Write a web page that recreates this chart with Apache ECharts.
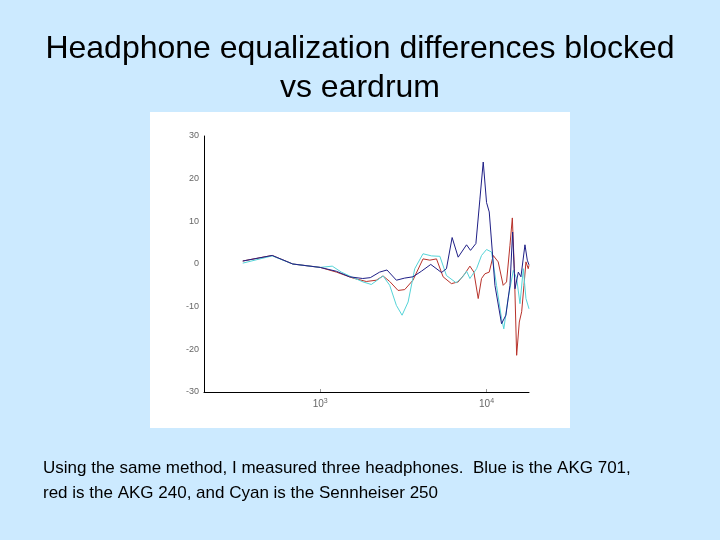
<!DOCTYPE html>
<html><head><meta charset="utf-8">
<script src="https://cdn.jsdelivr.net/npm/echarts@6/dist/echarts.min.js"></script>
<style>html,body{margin:0;padding:0;background:#cceaff;}#c{width:720px;height:540px;}</style>
</head><body><div id="c"></div>
<script>
const titleLines = ['Headphone equalization differences blocked', 'vs eardrum'];
const captionLines = ['Using the same method, I measured three headphones.  Blue is the AKG 701,', 'red is the AKG 240, and Cyan is the Sennheiser 250'];
const yTicks = [-30, -20, -10, 0, 10, 20, 30];

const blueFreq = [342, 514, 684, 1000, 1250, 1500, 1800, 2000, 2277, 2520, 2870, 3220, 3610, 4055, 4620, 5360, 5740, 6210, 6750, 7580, 8010, 8630, 9120, 9550, 10000, 10380, 11230, 12310, 13070, 13830, 14350, 14830, 15530, 16100, 17020, 17580, 18000];
const blueDb   = [0.7, 2.0, 0, -0.8, -1.7, -3.0, -3.4, -3.2, -1.9, -1.4, -3.8, -3.3, -3.0, -1.7, -0.1, -2.0, -1.1, 6.2, 1.6, 4.5, 3.2, 4.8, 15.2, 23.9, 14.4, 12.2, -5.0, -14.0, -12.0, -5.0, 7.5, -5.8, -1.9, -3.0, 4.5, 0.9, -0.2];

const redFreq = [342, 514, 684, 1000, 1250, 1574, 1892, 2172, 2386, 2617, 2937, 3220, 3610, 4150, 4560, 5000, 5480, 6150, 6750, 7400, 7940, 8390, 8910, 9330, 9770, 10380, 10970, 11750, 12590, 13190, 13830, 14290, 14690, 15170, 15740, 16260, 16790, 17260, 17810, 18000];
const redDb   = [0.7, 2.0, 0, -0.8, -1.9, -3.3, -4.1, -3.8, -2.8, -4.1, -6.2, -6.0, -3.8, 1.2, 0.9, 1.2, -3.0, -4.6, -4.2, -2.3, -0.5, -1.9, -8.1, -3.4, -2.3, -1.9, 2.0, 0.5, -5.0, -4.2, 4.4, 10.8, -1.1, -21.4, -13.6, -11.2, -5.0, 0.5, -1.1, -0.3];

const cyanFreq = [342, 514, 684, 1000, 1181, 1339, 1538, 1808, 2028, 2386, 2617, 2870, 3105, 3376, 3700, 4150, 4670, 5240, 5740, 6560, 7200, 7590, 7940, 8710, 9330, 10000, 10720, 11480, 12310, 12700, 13480, 14480, 15170, 15890, 16630, 17260, 18000];
const cyanDb   = [0.2, 1.9, 0, -0.8, -0.5, -1.9, -3.0, -4.2, -4.8, -2.8, -5.0, -9.7, -12.0, -8.9, -1.1, 2.4, 1.9, 1.8, -2.7, -4.4, -3.0, -1.7, -3.4, -1.1, 2.0, 3.4, 2.8, -5.0, -12.8, -15.2, -8.1, -1.5, -3.4, -9.3, -1.1, -8.1, -10.5];

const pairs = (xs, ys) => xs.map((x, i) => [x, ys[i]]);
const chart = echarts.init(document.getElementById('c'), null, {renderer: 'canvas'});

chart.setOption({
  backgroundColor: '#cceaff',
  animation: false,
  graphic: [
    {type: 'rect', z: -10, shape: {x: 150, y: 112, width: 420, height: 316}, style: {fill: '#ffffff'}},
    {type: 'text', left: 'center', top: 30, style: {text: titleLines.join('\n'), font: '32px "Liberation Sans", Arial, sans-serif', fill: '#000', textAlign: 'center', lineHeight: 39}},
    {type: 'text', left: 43, top: 456, style: {text: captionLines.join('\n'), font: '17px "Liberation Sans", Arial, sans-serif', fill: '#000', lineHeight: 25}}
  ],
  grid: {left: 204, top: 136, width: 325, height: 256, containLabel: false},
  xAxis: {
    type: 'log', logBase: 10, min: 200, max: 18000,
    axisLine: {show: true, onZero: false, lineStyle: {color: '#000', width: 1}},
    axisTick: {show: true, inside: true, length: 3, lineStyle: {color: '#999'}},
    splitLine: {show: false},
    axisLabel: {
      showMinLabel: false, showMaxLabel: false, color: '#666', fontSize: 10, margin: 6,
      fontFamily: 'Liberation Sans',
      formatter: v => { const e = Math.log10(v); return Math.abs(e - Math.round(e)) < 1e-6 ? '10{s|' + Math.round(e) + '}' : ''; },
      rich: {s: {fontSize: 7, verticalAlign: 'top', padding: [0, 0, 6, 0], color: '#666'}}
    }
  },
  yAxis: {
    type: 'value', min: yTicks[0], max: yTicks[yTicks.length - 1], interval: 10,
    axisLine: {show: true, lineStyle: {color: '#000', width: 1}},
    axisTick: {show: false},
    splitLine: {show: false},
    axisLabel: {color: '#666', fontSize: 9, margin: 5, fontFamily: 'Liberation Sans'}
  },
  series: [
    {name: 'AKG 240', type: 'line', data: pairs(redFreq, redDb), showSymbol: false, lineStyle: {color: '#b8322a', width: 1}, z: 2},
    {name: 'Sennheiser 250', type: 'line', data: pairs(cyanFreq, cyanDb), showSymbol: false, lineStyle: {color: '#55d4d8', width: 1}, z: 3},
    {name: 'AKG 701', type: 'line', data: pairs(blueFreq, blueDb), showSymbol: false, lineStyle: {color: '#1f1f86', width: 1}, z: 4}
  ]
});
</script></body></html>
